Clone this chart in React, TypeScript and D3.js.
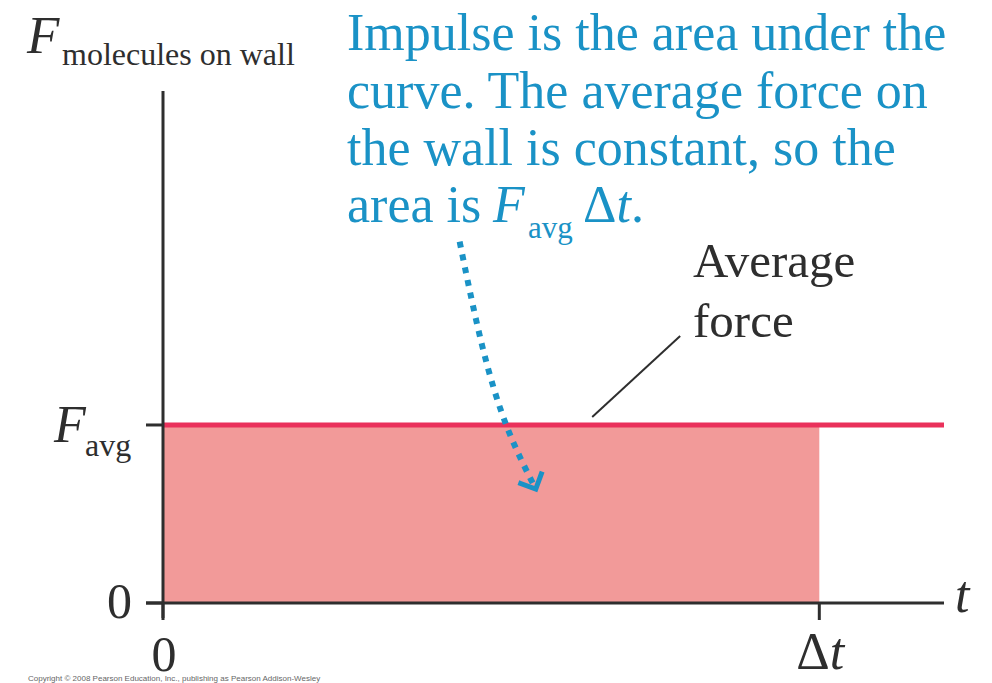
import React from "react";
import * as d3 from "d3";

// Axis ticks and values (time in units of Δt, force in units of F_avg)
const timeTicks = [0, 1];
const timeTickLabels = ["0", "Δt"];
const forceTicks = [0, 1];
const forceTickLabels = ["0", "F_avg"];
const averageForce = [1];
const impulseInterval = [0, 1];
const timeMax = 1.19;
const forceMax = 2.876;

// Annotation path in data units (t, F)
const arrowPath: [number, number][] = [
  [0.452, 2.03],
  [0.486, 1.45],
  [0.524, 0.99],
  [0.568, 0.64],
];
const leaderLine: [number, number][] = [
  [0.654, 1.045],
  [0.788, 1.5],
];

const W = 992;
const H = 683;
const BLUE = "#1a92c6";
const INK = "#2e2e2e";
const RED = "#ea315b";
const PINK = "#f29a99";
const SERIF = "'Liberation Serif', 'DejaVu Serif', serif";

export default function App() {
  const x = d3.scaleLinear().domain([0, timeMax]).range([163, 944]);
  const y = d3.scaleLinear().domain([0, forceMax]).range([603, 91]);

  const line = d3
    .line<[number, number]>()
    .x((d) => x(d[0]))
    .y((d) => y(d[1]))
    .curve(d3.curveNatural);

  // Chevron at the end of the dotted arrow, following the final tangent
  const n = arrowPath.length;
  const ex = x(arrowPath[n - 1][0]);
  const ey = y(arrowPath[n - 1][1]);
  const px = x(arrowPath[n - 2][0]);
  const py = y(arrowPath[n - 2][1]);
  const ang = Math.atan2(ey - py, ex - px);
  const arm = 16;
  const head = [ang + Math.PI - Math.PI / 4, ang + Math.PI + Math.PI / 4].map(
    (a) => [ex + arm * Math.cos(a), ey + arm * Math.sin(a)]
  );
  const headPath = `M${head[0][0]},${head[0][1]}L${ex},${ey}L${head[1][0]},${head[1][1]}`;

  const fAvg = averageForce[0];

  return (
    <div style={{ position: "absolute", left: 0, top: 0 }}>
      <svg width={W} height={H} style={{ display: "block" }}>
        <rect width={W} height={H} fill="#ffffff" />

        {/* Impulse area */}
        <rect
          x={x(impulseInterval[0])}
          y={y(fAvg)}
          width={x(impulseInterval[1]) - x(impulseInterval[0])}
          height={y(0) - y(fAvg)}
          fill={PINK}
        />

        {/* Average force line */}
        <line
          x1={x(0)}
          x2={x(timeMax)}
          y1={y(fAvg)}
          y2={y(fAvg)}
          stroke={RED}
          strokeWidth={5}
        />

        {/* Axes */}
        <line x1={x(0)} x2={x(0)} y1={y(forceMax)} y2={618} stroke={INK} strokeWidth={3} />
        <line x1={146} x2={x(timeMax)} y1={y(0)} y2={y(0)} stroke={INK} strokeWidth={3} />

        {/* Force ticks */}
        {forceTicks.map((f) => (
          <line key={"f" + f} x1={146} x2={x(0)} y1={y(f)} y2={y(f)} stroke={INK} strokeWidth={3} />
        ))}
        {/* Time ticks */}
        {timeTicks.map((t) => (
          <line key={"t" + t} x1={x(t)} x2={x(t)} y1={y(0)} y2={620} stroke={INK} strokeWidth={3} />
        ))}

        {/* Tick labels */}
        <text x={132} y={y(forceTicks[0]) + 15} fontFamily={SERIF} fontSize={50} fill={INK} textAnchor="end">
          {forceTickLabels[0]}
        </text>
        <text x={54} y={y(forceTicks[1]) + 17} fontFamily={SERIF} fontSize={52} fill={INK} fontStyle="italic">
          {forceTickLabels[1].split("_")[0]}
        </text>
        <text x={85} y={y(forceTicks[1]) + 31} fontFamily={SERIF} fontSize={32} fill={INK}>
          {forceTickLabels[1].split("_")[1]}
        </text>

        <text x={x(timeTicks[0]) + 1} y={671} fontFamily={SERIF} fontSize={50} fill={INK} textAnchor="middle">
          {timeTickLabels[0]}
        </text>
        <text x={x(timeTicks[1]) + 1} y={669} fontFamily={SERIF} fontSize={52} fill={INK} textAnchor="middle">
          <tspan>{timeTickLabels[1][0]}</tspan>
          <tspan fontStyle="italic">{timeTickLabels[1].slice(1)}</tspan>
        </text>

        {/* Axis titles */}
        <text x={955} y={612} fontFamily={SERIF} fontSize={52} fontStyle="italic" fill={INK}>
          t
        </text>
        <text x={27} y={53} fontFamily={SERIF} fontSize={53} fontStyle="italic" fill={INK}>
          F
        </text>
        <text x={62} y={65} fontFamily={SERIF} fontSize={32} fill={INK}>
          molecules on wall
        </text>

        {/* Average force callout */}
        <path d={line(leaderLine) ?? ""} stroke={INK} strokeWidth={2} fill="none" />
        <text x={693} y={277} fontFamily={SERIF} fontSize={49} fill={INK}>
          Average
        </text>
        <text x={693} y={337} fontFamily={SERIF} fontSize={49} fill={INK}>
          force
        </text>

        {/* Impulse explanation */}
        <g fontFamily={SERIF} fontSize={52} fill={BLUE}>
          <text x={347} y={50}>Impulse is the area under the</text>
          <text x={347} y={108}>curve. The average force on</text>
          <text x={347} y={165}>the wall is constant, so the</text>
          <text x={347} y={222}>area is</text>
          <text x={493} y={222} fontStyle="italic">F</text>
          <text x={528} y={238} fontSize={31}>avg</text>
          <text x={583} y={222}>
            <tspan>Δ</tspan>
            <tspan fontStyle="italic">t</tspan>
            <tspan>.</tspan>
          </text>
        </g>

        {/* Dotted arrow into the area */}
        <path
          d={line(arrowPath) ?? ""}
          stroke={BLUE}
          strokeWidth={6}
          strokeDasharray="6 7"
          fill="none"
        />
        <path d={headPath} stroke={BLUE} strokeWidth={5} fill="none" strokeLinecap="square" />

        {/* Credit line */}
        <text x={28} y={681} fontFamily="'Liberation Sans', Arial, sans-serif" fontSize={8} fill="#666">
          Copyright © 2008 Pearson Education, Inc., publishing as Pearson Addison-Wesley
        </text>
      </svg>
    </div>
  );
}
